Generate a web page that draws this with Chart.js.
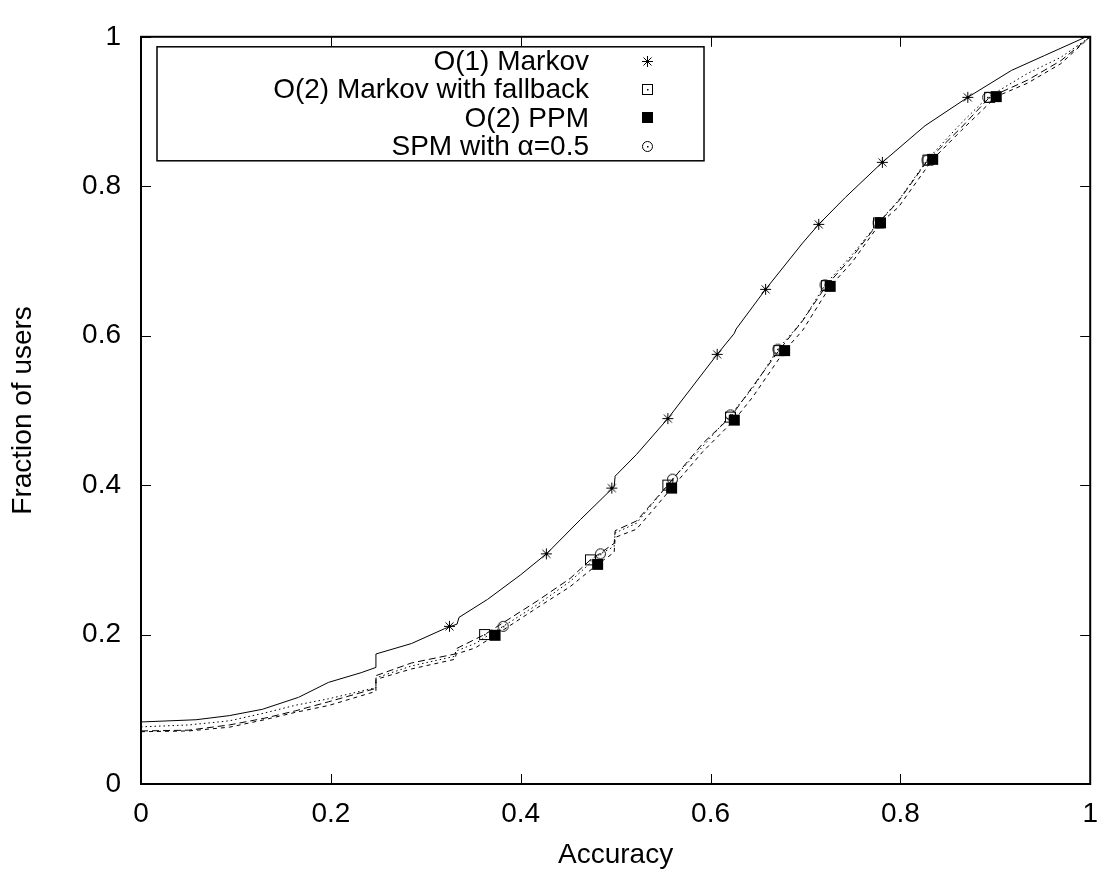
<!DOCTYPE html>
<html>
<head>
<meta charset="utf-8">
<script src="https://cdn.jsdelivr.net/npm/chart.js@4.4.1/dist/chart.umd.min.js"></script>
<style>
  html, body { margin: 0; padding: 0; background: #fff; }
  #wrap { width: 1111px; height: 878px; }
</style>
</head>
<body>
<div id="wrap"><canvas id="c" width="1111" height="878"></canvas></div>
<script>
// Cumulative fraction of users reaching at most a given prediction accuracy.

// O(1) Markov
const markovAcc  = [0, 0.058, 0.093, 0.128, 0.166, 0.1975, 0.232, 0.2475, 0.2475, 0.285, 0.32, 0.333, 0.335, 0.365, 0.40, 0.428, 0.463, 0.4985, 0.4995, 0.522, 0.555, 0.607, 0.625, 0.627, 0.658, 0.697, 0.714, 0.742, 0.781, 0.826, 0.871, 0.917, 0.952, 0.994, 1.0];
const markovFrac = [0.083, 0.086, 0.0915, 0.100, 0.116, 0.136, 0.149, 0.156, 0.174, 0.188, 0.208, 0.214, 0.223, 0.247, 0.28, 0.309, 0.354, 0.398, 0.412, 0.441, 0.489, 0.575, 0.603, 0.609, 0.662, 0.724, 0.749, 0.785, 0.832, 0.881, 0.919, 0.955, 0.975, 0.999, 1.0];
const markovPtAcc  = [0.325, 0.427, 0.496, 0.555, 0.607, 0.658, 0.714, 0.781, 0.871];
const markovPtFrac = [0.211, 0.308, 0.396, 0.489, 0.575, 0.662, 0.749, 0.832, 0.919];

// O(2) Markov with fallback
const fallbackAcc  = [0, 0.05, 0.093, 0.13, 0.163, 0.1975, 0.2475, 0.2475, 0.285, 0.331, 0.332, 0.362, 0.4175, 0.452, 0.4735, 0.4985, 0.4995, 0.522, 0.555, 0.592, 0.621, 0.6445, 0.672, 0.697, 0.722, 0.749, 0.777, 0.798, 0.829, 0.8645, 0.894, 0.934, 0.969, 1];
const fallbackFrac = [0.071, 0.072, 0.079, 0.088, 0.098, 0.11, 0.128, 0.145, 0.162, 0.174, 0.181, 0.2, 0.245, 0.275, 0.30, 0.322, 0.339, 0.352, 0.40, 0.456, 0.491, 0.532, 0.58, 0.62, 0.667, 0.705, 0.751, 0.78, 0.835, 0.879, 0.919, 0.942, 0.968, 1];
const fallbackPtAcc  = [0.362, 0.4735, 0.555, 0.621, 0.672, 0.722, 0.777, 0.829, 0.894];
const fallbackPtFrac = [0.2, 0.30, 0.40, 0.491, 0.58, 0.667, 0.751, 0.835, 0.919];

// O(2) PPM
const ppmAcc  = [0, 0.05, 0.093, 0.13, 0.163, 0.1975, 0.2475, 0.2475, 0.285, 0.331, 0.332, 0.352, 0.373, 0.4175, 0.452, 0.481, 0.4985, 0.4995, 0.522, 0.559, 0.592, 0.625, 0.6445, 0.678, 0.697, 0.726, 0.749, 0.779, 0.798, 0.834, 0.8645, 0.901, 0.934, 0.969, 1];
const ppmFrac = [0.07, 0.071, 0.076, 0.086, 0.096, 0.105, 0.124, 0.14, 0.154, 0.167, 0.174, 0.182, 0.199, 0.236, 0.264, 0.294, 0.31, 0.33, 0.341, 0.396, 0.445, 0.487, 0.518, 0.58, 0.607, 0.666, 0.698, 0.751, 0.772, 0.836, 0.875, 0.92, 0.938, 0.964, 1];
const ppmPtAcc  = [0.373, 0.481, 0.559, 0.625, 0.678, 0.726, 0.779, 0.834, 0.901];
const ppmPtFrac = [0.199, 0.294, 0.396, 0.487, 0.58, 0.666, 0.751, 0.836, 0.92];

// SPM with alpha = 0.5
const spmAcc  = [0, 0.05, 0.093, 0.13, 0.163, 0.1975, 0.2475, 0.2475, 0.285, 0.331, 0.332, 0.352, 0.3815, 0.4175, 0.452, 0.484, 0.4985, 0.4995, 0.522, 0.56, 0.592, 0.621, 0.6445, 0.671, 0.697, 0.7206, 0.749, 0.7765, 0.798, 0.828, 0.8645, 0.892, 0.934, 0.969, 1];
const spmFrac = [0.0765, 0.079, 0.0845, 0.095, 0.1055, 0.114, 0.129, 0.142, 0.158, 0.171, 0.178, 0.188, 0.211, 0.24, 0.271, 0.308, 0.318, 0.336, 0.349, 0.408, 0.452, 0.494, 0.53, 0.582, 0.62, 0.668, 0.708, 0.751, 0.781, 0.835, 0.885, 0.919, 0.951, 0.9725, 1];
const spmPtAcc  = [0.3815, 0.484, 0.56, 0.621, 0.671, 0.7206, 0.7765, 0.828, 0.892];
const spmPtFrac = [0.211, 0.308, 0.408, 0.494, 0.582, 0.668, 0.751, 0.835, 0.919];

const seriesNames = ['O(1) Markov', 'O(2) Markov with fallback', 'O(2) PPM', 'SPM with \u03B1=0.5'];
const xTickValues = [0, 0.2, 0.4, 0.6, 0.8, 1];
const xTickLabels = ['0', '0.2', '0.4', '0.6', '0.8', '1'];
const yTickValues = [0, 0.2, 0.4, 0.6, 0.8, 1];
const yTickLabels = ['0', '0.2', '0.4', '0.6', '0.8', '1'];

const FONT = { family: '"Liberation Sans", Arial, Helvetica, sans-serif', size: 28 };

const pairs = (xs, ys) => xs.map((x, i) => ({ x: x, y: ys[i] }));

// Small bitmap point symbols: asterisk, open square with dot, filled square, circle with dot
function makeSymbol(kind) {
  const c = document.createElement('canvas');
  c.width = 15; c.height = 15;
  const g = c.getContext('2d');
  g.strokeStyle = '#000'; g.fillStyle = '#000'; g.lineWidth = 1;
  const m = 7.5;
  if (kind === 'star') {
    const a = 5.5, d = 4;
    g.beginPath();
    g.moveTo(m - a, m); g.lineTo(m + a, m);
    g.moveTo(m, m - a); g.lineTo(m, m + a);
    g.moveTo(m - d, m - d); g.lineTo(m + d, m + d);
    g.moveTo(m - d, m + d); g.lineTo(m + d, m - d);
    g.stroke();
  } else if (kind === 'box') {
    g.strokeRect(2.5, 2.5, 10, 10);
    g.fillRect(7, 7, 1.5, 1.5);
  } else if (kind === 'boxfill') {
    g.fillRect(2, 2, 11, 11);
  } else if (kind === 'circle') {
    g.beginPath(); g.arc(m, m, 5, 0, Math.PI * 2); g.stroke();
    g.fillRect(7, 7, 1.5, 1.5);
  }
  return c;
}
const symbols = [makeSymbol('star'), makeSymbol('box'), makeSymbol('boxfill'), makeSymbol('circle')];

function curve(xs, ys, dash) {
  return {
    data: pairs(xs, ys), showLine: true, pointRadius: 0, pointHoverRadius: 0,
    borderColor: '#000', borderWidth: 1, borderDash: dash, tension: 0, fill: false, order: 2
  };
}
function marks(xs, ys, sym) {
  return {
    data: pairs(xs, ys), showLine: false, pointStyle: sym, pointRadius: 6,
    pointHoverRadius: 6, borderColor: '#000', backgroundColor: '#000', order: 1
  };
}

const datasets = [
  curve(markovAcc, markovFrac, []),
  curve(fallbackAcc, fallbackFrac, [7, 4]),
  curve(ppmAcc, ppmFrac, [4, 4]),
  curve(spmAcc, spmFrac, [1.5, 3]),
  marks(markovPtAcc, markovPtFrac, symbols[0]),
  marks(fallbackPtAcc, fallbackPtFrac, symbols[1]),
  marks(ppmPtAcc, ppmPtFrac, symbols[2]),
  marks(spmPtAcc, spmPtFrac, symbols[3])
];

// Border box with inward ticks on all four sides
const framePlugin = {
  id: 'frame',
  beforeDatasetsDraw(chart) {
    const { ctx, chartArea: a, scales } = chart;
    ctx.save();
    ctx.strokeStyle = '#000';
    ctx.lineWidth = 1;
    const tl = 10;
    ctx.beginPath();
    xTickValues.forEach(v => {
      const px = Math.round(scales.x.getPixelForValue(v)) + 0.5;
      ctx.moveTo(px, a.bottom); ctx.lineTo(px, a.bottom - tl);
      ctx.moveTo(px, a.top); ctx.lineTo(px, a.top + tl);
    });
    yTickValues.forEach(v => {
      const py = Math.round(scales.y.getPixelForValue(v)) + 0.5;
      ctx.moveTo(a.left, py); ctx.lineTo(a.left + tl, py);
      ctx.moveTo(a.right, py); ctx.lineTo(a.right - tl, py);
    });
    ctx.stroke();
    ctx.lineWidth = 2;
    ctx.strokeRect(a.left, a.top, a.right - a.left, a.bottom - a.top);
    ctx.restore();
  }
};

// Key box in the upper-left corner: right-aligned names followed by their symbols
const keyPlugin = {
  id: 'key',
  afterDraw(chart) {
    const { ctx, chartArea: a } = chart;
    const left = a.left + 16, top = a.top + 10, w = 547, h = 114;
    ctx.save();
    ctx.fillStyle = '#fff';
    ctx.fillRect(left, top, w, h);
    ctx.strokeStyle = '#000';
    ctx.lineWidth = 1.5;
    ctx.strokeRect(left, top, w, h);
    ctx.font = FONT.size + 'px ' + FONT.family;
    ctx.fillStyle = '#000';
    ctx.textAlign = 'right';
    ctx.textBaseline = 'middle';
    seriesNames.forEach((name, i) => {
      const cy = top + 14.5 + i * 28.3;
      ctx.fillText(name, left + 432, cy + 1);
      const s = symbols[i];
      ctx.drawImage(s, Math.round(left + 490 - s.width / 2), Math.round(cy - s.height / 2));
    });
    ctx.restore();
  }
};

new Chart(document.getElementById('c'), {
  type: 'scatter',
  data: { datasets },
  options: {
    responsive: false,
    animation: false,
    events: [],
    layout: { padding: { left: 0, top: 19, right: 15, bottom: 0 } },
    plugins: { legend: { display: false }, tooltip: { enabled: false } },
    scales: {
      x: {
        type: 'linear', min: 0, max: 1,
        afterBuildTicks: s => { s.ticks = xTickValues.map(v => ({ value: v })); },
        afterFit: s => { s.height = 94; },
        grid: { display: false, drawTicks: false },
        border: { display: false },
        ticks: { padding: 13, color: '#000', font: FONT, maxRotation: 0, autoSkip: false,
                 callback: (v, i) => xTickLabels[i] },
        title: { display: true, text: 'Accuracy', color: '#000', font: FONT, padding: { top: 0, bottom: 6 } }
      },
      y: {
        type: 'linear', min: 0, max: 1,
        afterBuildTicks: s => { s.ticks = yTickValues.map(v => ({ value: v })); },
        afterFit: s => { s.width = 141; },
        grid: { display: false, drawTicks: false },
        border: { display: false },
        ticks: { padding: 20, color: '#000', font: FONT, autoSkip: false,
                 callback: (v, i) => yTickLabels[i] },
        title: { display: true, text: 'Fraction of users', color: '#000', font: FONT, padding: { top: 6, bottom: 0 } }
      }
    }
  },
  plugins: [framePlugin, keyPlugin]
});
</script>
</body>
</html>
